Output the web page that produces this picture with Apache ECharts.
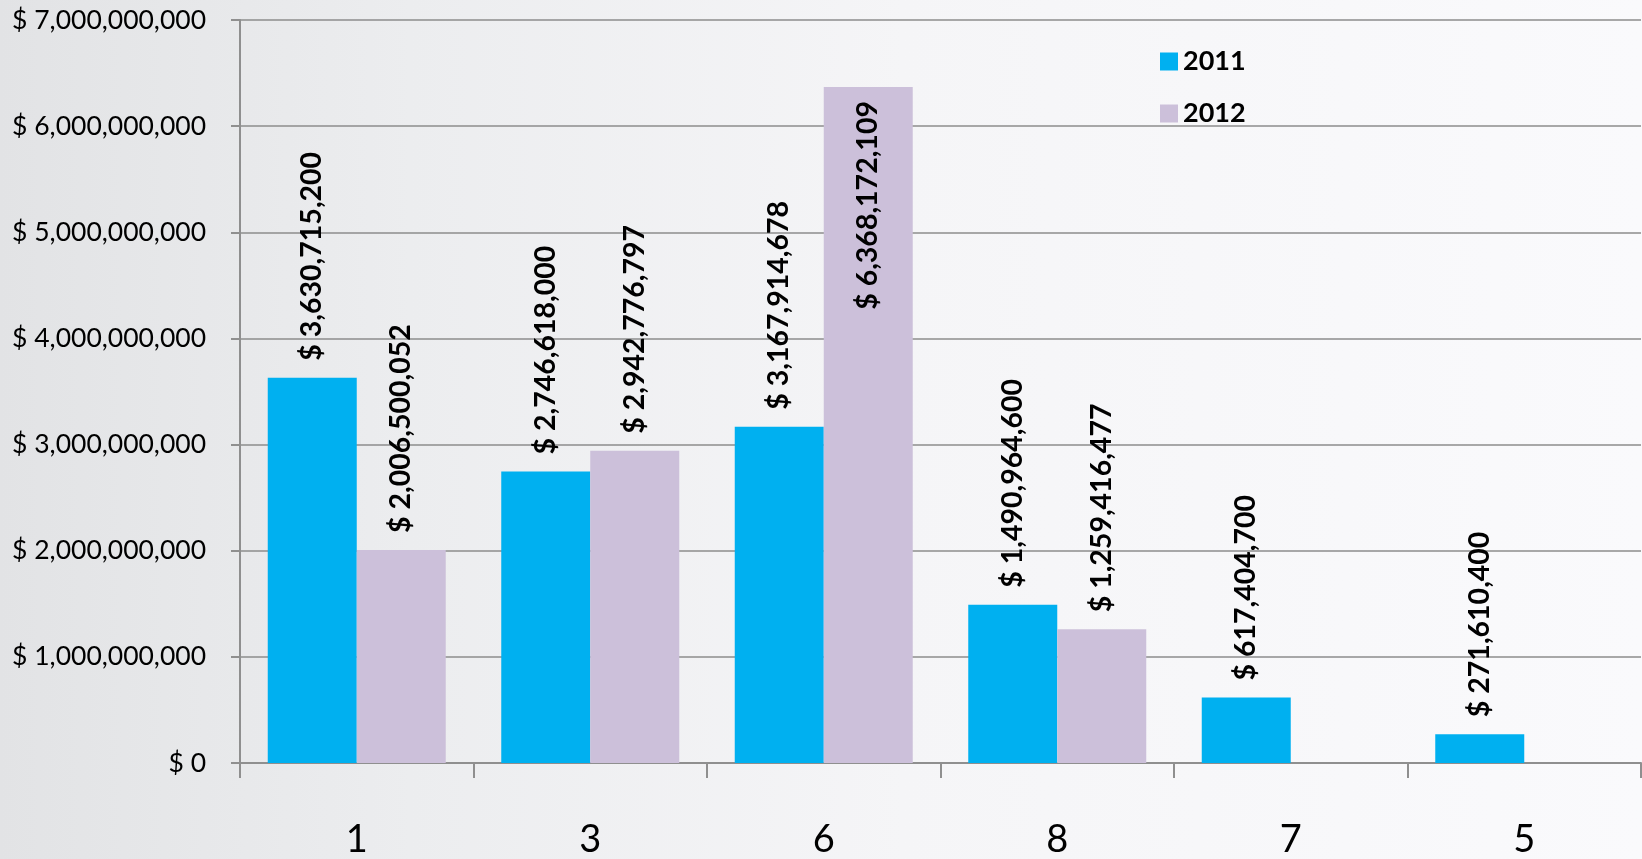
<!DOCTYPE html>
<html>
<head>
<meta charset="utf-8">
<script src="https://cdn.jsdelivr.net/npm/echarts@6/dist/echarts.min.js"></script>
<style>
  html, body { margin: 0; padding: 0; }
  #chart {
    width: 1642px;
    height: 859px;
    background: linear-gradient(90deg, #e2e3e5 0%, #ecedef 25%, #f5f5f7 55%, #fafafc 100%);
  }
</style>
</head>
<body>
<div id="chart"></div>
<script>
// categories and values
const categories = ['1', '3', '6', '8', '7', '5']
const values2011 = [3630715200, 2746618000, 3167914678, 1490964600, 617404700, 271610400]
const values2012 = [2006500052, 2942776797, 6368172109, 1259416477, null, null]
const yTicks = [0, 1e9, 2e9, 3e9, 4e9, 5e9, 6e9, 7e9]

const money = (v) => '$ ' + Number(v).toLocaleString('en-US')

const labelFont = 'Lato, "Open Sans", sans-serif'

// labels above bars; the tallest one does not fit, so it goes inside
const toData = (arr) => arr.map((v) => {
  if (v == null) return '-'
  if (v > 5.5e9) {
    return {
      value: v,
      label: { position: 'insideTop', align: 'right', distance: 14 }
    }
  }
  return v
})

const barLabel = {
  show: true,
  position: 'top',
  rotate: 90,
  align: 'left',
  verticalAlign: 'middle',
  distance: 17,
  fontSize: 28.5,
  fontWeight: 'bold',
  color: '#000',
  fontFamily: labelFont,
  formatter: (p) => money(p.value)
}

const chart = echarts.init(document.getElementById('chart'))
chart.setOption({
  animation: false,
  textStyle: { fontFamily: labelFont },
  grid: { left: 240, right: 1, top: 20, bottom: 96 },
  legend: {
    orient: 'vertical',
    left: 1155,
    top: 43,
    itemWidth: 18,
    itemHeight: 18,
    itemGap: 25,
    icon: 'rect',
    textStyle: { fontSize: 27, fontWeight: 'bold', color: '#000', fontFamily: labelFont },
    data: ['2011', '2012']
  },
  xAxis: {
    type: 'category',
    data: categories,
    axisLine: { lineStyle: { color: '#8f8f8f', width: 2 } },
    axisTick: { show: true, length: 15, lineStyle: { color: '#8f8f8f', width: 2 } },
    axisLabel: { fontSize: 38, color: '#000', margin: 58, fontFamily: labelFont }
  },
  yAxis: {
    type: 'value',
    min: yTicks[0],
    max: yTicks[yTicks.length - 1],
    interval: 1e9,
    axisLine: { show: true, lineStyle: { color: '#8f8f8f', width: 2 } },
    axisTick: { show: true, length: 9, lineStyle: { color: '#8f8f8f', width: 2 } },
    splitLine: { lineStyle: { color: '#8c8c8c', width: 1.5 } },
    axisLabel: {
      fontSize: 26.5,
      color: '#000',
      margin: 34,
      fontFamily: labelFont,
      formatter: (v) => money(v)
    }
  },
  series: [
    {
      name: '2011',
      type: 'bar',
      data: toData(values2011),
      barWidth: 89,
      barGap: 0,
      itemStyle: { color: '#00b0f0' },
      label: barLabel
    },
    {
      name: '2012',
      type: 'bar',
      data: toData(values2012),
      barWidth: 89,
      barGap: 0,
      itemStyle: { color: '#ccc0da' },
      label: barLabel
    }
  ]
})
</script>
</body>
</html>
